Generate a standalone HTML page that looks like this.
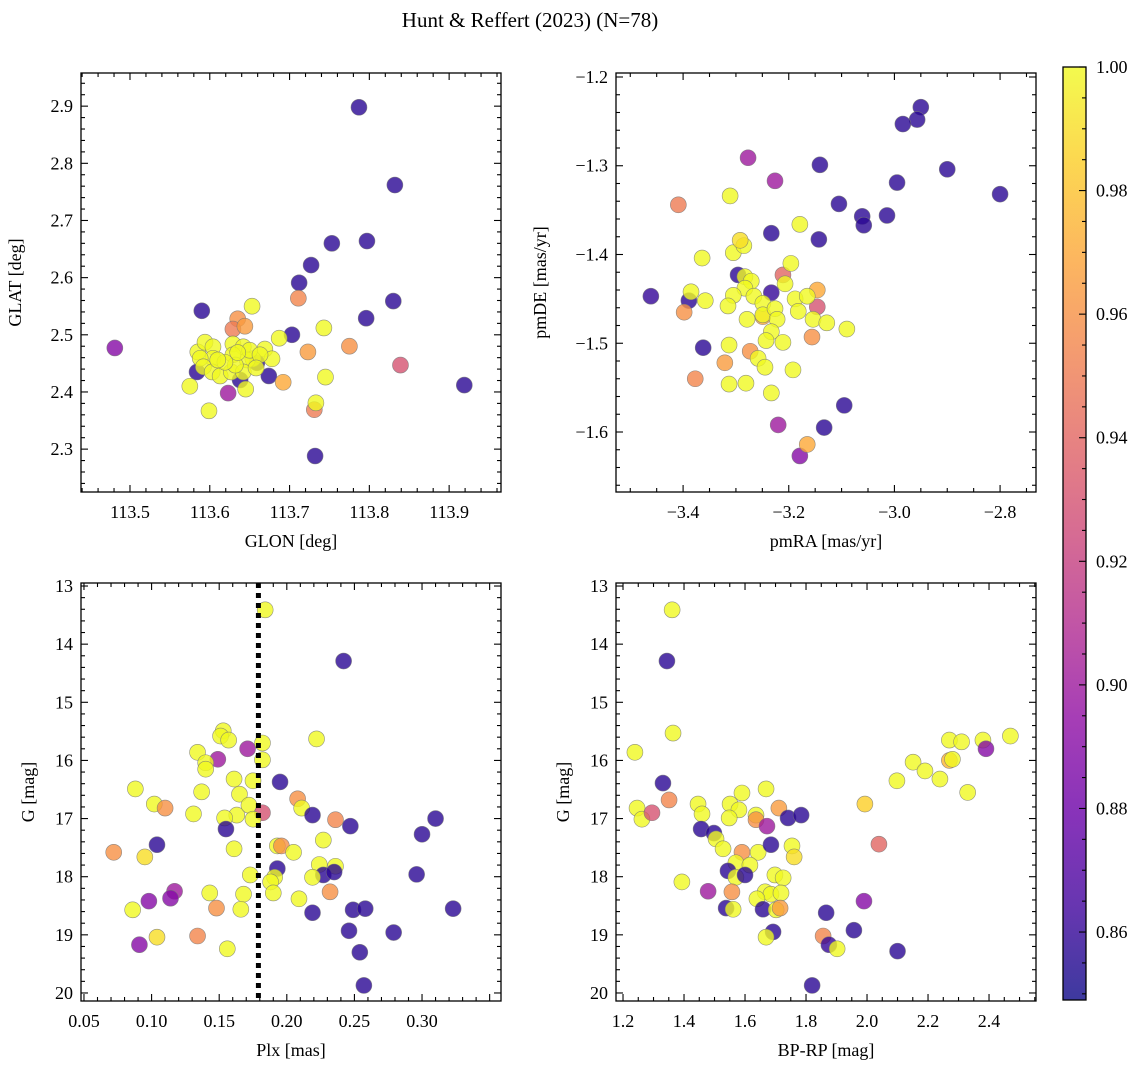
<!DOCTYPE html>
<html><head><meta charset="utf-8"><style>
html,body{margin:0;padding:0;background:#fff;}
svg{display:block;font-family:"Liberation Serif","DejaVu Serif",serif;}
</style></head><body>
<svg id="fig" width="1148" height="1067" viewBox="0 0 1148 1067" xmlns="http://www.w3.org/2000/svg">
<text x="530" y="27" font-size="21" text-anchor="middle">Hunt &amp; Reffert (2023) (N=78)</text>
</svg>
<script>
// ---- Panel 1: GLON / GLAT ----
const p1Glon=[113.787,113.832,113.797,113.753,113.727,113.712,113.796,113.830,113.590,113.703,113.584,113.674,113.638,113.659,113.732,113.919,113.481,113.623,113.839,113.711,113.635,113.629,113.644,113.723,113.775,113.692,113.731,113.653,113.687,113.743,113.585,113.594,113.604,113.604,113.629,113.642,113.669,113.678,113.654,113.647,113.629,113.588,113.592,113.603,113.613,113.627,113.642,113.645,113.575,113.599,113.733,113.745,113.632,113.650,113.663,113.635,113.619,113.658,113.610];
const p1Glat=[2.898,2.762,2.664,2.660,2.622,2.591,2.529,2.559,2.542,2.500,2.435,2.428,2.421,2.451,2.288,2.412,2.477,2.398,2.447,2.564,2.528,2.510,2.515,2.470,2.480,2.417,2.369,2.550,2.494,2.512,2.470,2.487,2.479,2.459,2.484,2.479,2.475,2.458,2.458,2.456,2.465,2.459,2.444,2.435,2.428,2.435,2.435,2.405,2.410,2.367,2.381,2.426,2.447,2.473,2.465,2.469,2.452,2.442,2.456];
const p1Prob=[0.857,0.857,0.857,0.857,0.857,0.857,0.857,0.857,0.857,0.857,0.857,0.857,0.857,0.857,0.857,0.857,0.89,0.90,0.93,0.955,0.96,0.95,0.965,0.965,0.96,0.97,0.95,1,1,1,1,1,1,1,1,1,1,1,1,1,1,1,1,1,1,1,1,1,1,1,1,1,1,1,1,1,1,1,1];
// ---- Panel 2: pmRA / pmDE ----
const p2Pmra=[-2.950,-2.957,-2.984,-2.900,-2.800,-2.995,-3.014,-3.061,-3.058,-3.141,-3.105,-3.233,-3.143,-3.296,-3.461,-3.389,-3.233,-3.362,-3.095,-3.133,-3.277,-3.226,-3.220,-3.179,-3.409,-3.211,-3.146,-3.398,-3.146,-3.249,-3.156,-3.273,-3.321,-3.377,-3.165,-3.364,-3.305,-3.285,-3.196,-3.283,-3.271,-3.207,-3.283,-3.385,-3.358,-3.305,-3.266,-3.188,-3.165,-3.315,-3.249,-3.249,-3.226,-3.182,-3.279,-3.222,-3.154,-3.128,-3.090,-3.233,-3.243,-3.211,-3.313,-3.258,-3.245,-3.192,-3.313,-3.281,-3.233,-3.311,-3.179,-3.292];
const p2Pmde=[-1.234,-1.248,-1.253,-1.304,-1.332,-1.319,-1.356,-1.357,-1.367,-1.299,-1.343,-1.376,-1.383,-1.423,-1.447,-1.452,-1.443,-1.505,-1.570,-1.595,-1.291,-1.317,-1.592,-1.627,-1.344,-1.423,-1.459,-1.465,-1.440,-1.470,-1.493,-1.509,-1.522,-1.540,-1.614,-1.404,-1.398,-1.390,-1.410,-1.425,-1.430,-1.433,-1.438,-1.442,-1.452,-1.446,-1.447,-1.450,-1.447,-1.458,-1.455,-1.468,-1.461,-1.464,-1.473,-1.473,-1.473,-1.477,-1.484,-1.487,-1.497,-1.499,-1.502,-1.517,-1.527,-1.530,-1.546,-1.545,-1.556,-1.334,-1.366,-1.384];
const p2Prob=[0.857,0.857,0.857,0.857,0.857,0.857,0.857,0.857,0.857,0.857,0.857,0.857,0.857,0.857,0.86,0.857,0.86,0.857,0.857,0.857,0.90,0.90,0.90,0.89,0.95,0.94,0.93,0.96,0.97,0.97,0.96,0.96,0.965,0.955,0.97,1,1,1,1,1,1,1,1,1,1,1,1,1,1,1,1,1,1,1,1,1,1,1,1,1,1,1,1,1,1,1,1,1,1,1,1,0.99];
// ---- Panel 3: Plx / G ----
const p3Plx=[0.184,0.242,0.153,0.151,0.157,0.171,0.182,0.222,0.134,0.149,0.140,0.140,0.182,0.161,0.175,0.195,0.088,0.137,0.165,0.208,0.211,0.219,0.236,0.102,0.110,0.131,0.163,0.172,0.182,0.154,0.175,0.155,0.104,0.072,0.095,0.161,0.193,0.196,0.205,0.227,0.193,0.224,0.236,0.227,0.235,0.219,0.173,0.191,0.188,0.190,0.117,0.114,0.098,0.143,0.168,0.232,0.086,0.148,0.166,0.209,0.219,0.091,0.104,0.134,0.156,0.310,0.300,0.296,0.323,0.279,0.246,0.249,0.258,0.254,0.257,0.247];
const p3G=[13.41,14.29,15.49,15.58,15.65,15.80,15.70,15.63,15.86,15.98,16.04,16.15,15.99,16.32,16.35,16.37,16.49,16.54,16.58,16.66,16.82,16.94,17.02,16.75,16.82,16.92,16.94,16.77,16.90,16.99,17.01,17.18,17.45,17.58,17.66,17.52,17.47,17.47,17.58,17.37,17.86,17.79,17.82,17.97,17.92,18.01,17.97,18.01,18.09,18.28,18.25,18.37,18.42,18.28,18.30,18.26,18.57,18.54,18.56,18.38,18.62,19.17,19.04,19.02,19.24,17.00,17.27,17.96,18.55,18.96,18.93,18.57,18.55,19.30,19.87,17.13];
const p3Prob=[1,0.857,1,1,1,0.90,1,1,1,0.90,1,1,1,1,1,0.857,1,1,1,0.96,1,0.857,0.955,1,0.96,1,1,1,0.93,1,1,0.857,0.857,0.96,0.99,1,1,0.96,1,1,0.857,1,1,0.857,0.857,1,1,1,1,1,0.90,0.89,0.89,1,1,0.96,1,0.96,1,1,0.857,0.89,0.99,0.955,1,0.857,0.857,0.857,0.857,0.857,0.857,0.857,0.857,0.857,0.857,0.857];
const plxLine=[0.179];
// ---- Panel 4: BP-RP / G ----
const p4Bprp=[1.364,1.361,1.344,1.239,1.331,1.351,1.246,1.262,1.295,1.446,1.459,1.551,1.590,1.580,1.548,1.669,1.711,1.636,1.636,1.672,1.741,1.784,1.456,1.498,1.505,1.528,1.590,1.643,1.685,1.754,1.761,1.570,1.616,1.544,1.570,1.600,1.698,1.725,1.393,1.479,1.557,1.666,1.685,1.718,1.639,1.538,1.561,1.659,1.702,1.715,1.866,1.990,1.692,1.669,1.856,1.957,1.875,1.902,1.993,2.039,2.100,2.098,2.151,2.190,2.239,2.27,2.28,2.27,2.31,2.38,2.47,2.39,2.33,1.82];
const p4G=[15.53,13.41,14.29,15.86,16.39,16.68,16.82,17.01,16.90,16.75,16.92,16.75,16.56,16.85,16.99,16.49,16.82,16.94,17.02,17.13,16.99,16.94,17.18,17.25,17.35,17.52,17.58,17.58,17.45,17.47,17.66,17.76,17.80,17.90,18.01,17.97,17.97,18.02,18.09,18.25,18.26,18.26,18.30,18.28,18.38,18.54,18.56,18.56,18.57,18.54,18.62,18.42,18.95,19.04,19.02,18.92,19.17,19.24,16.75,17.44,19.28,16.35,16.03,16.18,16.32,16.00,15.98,15.65,15.68,15.65,15.58,15.80,16.55,19.87];
const p4Prob=[1,1,0.857,1,0.857,0.955,1,1,0.93,1,1,1,1,1,1,1,0.965,1,0.96,0.90,0.857,0.857,0.857,0.857,1,1,0.96,1,0.857,1,0.99,1,1,0.857,1,0.857,1,1,1,0.90,0.96,1,1,1,1,0.857,1,0.857,1,0.965,0.857,0.89,0.857,1,0.955,0.857,0.86,1,0.985,0.94,0.857,1,1,1,1,0.975,1,1,1,1,1,0.89,1,0.857];
// ---- Colorbar ----
const cbTicks=[0.86,0.88,0.90,0.92,0.94,0.96,0.98,1.00];

const NS="http://www.w3.org/2000/svg";
const svg=document.getElementById('fig');
const VMIN=0.849,VMAX=1.0;
const plasma=["#0d0887","#41049d","#6a00a8","#8f0da4","#b12a90","#cc4778","#e16462","#f2844b","#fca636","#fcce25","#f0f921"];
function hx(c){return [parseInt(c.substr(1,2),16),parseInt(c.substr(3,2),16),parseInt(c.substr(5,2),16)];}
function cmap(v){let t=(v-VMIN)/(VMAX-VMIN);t=Math.max(0,Math.min(1,t));const f=t*10,i=Math.min(9,Math.floor(f)),r=f-i;const a=hx(plasma[i]),b=hx(plasma[i+1]);return 'rgb('+a.map((x,k)=>Math.round(x+(b[k]-x)*r)).join(',')+')';}
function mk(tag,attrs,parent){const e=document.createElementNS(NS,tag);for(const k in attrs)e.setAttribute(k,attrs[k]);(parent||svg).appendChild(e);return e;}

function panel(o){
  const g=mk('g',{});
  
  
  const X=v=>o.x0+(v-o.xmin)/(o.xmax-o.xmin)*(o.x1-o.x0);
  const Y=o.yinv?(v=>o.y0+(v-o.ymin)/(o.ymax-o.ymin)*(o.y1-o.y0)):(v=>o.y1-(v-o.ymin)/(o.ymax-o.ymin)*(o.y1-o.y0));
  const pg=mk('g',{},g);
  
  
  for(let i=0;i<o.xs.length;i++){
    const c=mk('circle',{cx:X(o.xs[i]),cy:Y(o.ys[i]),r:8,fill:cmap(o.cs[i]),'fill-opacity':0.8,stroke:'#777','stroke-width':0.6,'stroke-opacity':0.8},pg);
    
    
  }
  if(o.vline!==undefined){
    const l=mk('line',{x1:X(o.vline),x2:X(o.vline),y1:o.y0,y2:o.y1,stroke:'#000','stroke-width':5,'stroke-dasharray':'5,5'},g);
    
    
  }
  const fr=mk('rect',{x:o.x0,y:o.y0,width:o.x1-o.x0,height:o.y1-o.y0,fill:'none',stroke:'#000','stroke-width':1.3},g);
  
  
  const tg=mk('g',{stroke:'#000','stroke-width':1.1},g);
  
  
  const eps=1e-9;
  const nmx=Math.ceil((o.xmin-eps)/o.xminor),nMx=Math.floor((o.xmax+eps)/o.xminor);
  for(let k=nmx;k<=nMx;k++){const v=k*o.xminor;const major=Math.abs(v/o.xmajor-Math.round(v/o.xmajor))<1e-6;const L=major?7:4;const px=X(v);
    mk('line',{x1:px,x2:px,y1:o.y1,y2:o.y1-L},tg);mk('line',{x1:px,x2:px,y1:o.y0,y2:o.y0+L},tg);}
  const nmy=Math.ceil((o.ymin-eps)/o.yminor),nMy=Math.floor((o.ymax+eps)/o.yminor);
  for(let k=nmy;k<=nMy;k++){const v=k*o.yminor;const major=Math.abs(v/o.ymajor-Math.round(v/o.ymajor))<1e-6;const L=major?7:4;const py=Y(v);
    mk('line',{x1:o.x0,x2:o.x0+L,y1:py,y2:py},tg);mk('line',{x1:o.x1,x2:o.x1-L,y1:py,y2:py},tg);}
  const lg=mk('g',{'font-size':18,fill:'#000'},g);
  
  
  o.xlabels.forEach(s=>{const t=mk('text',{x:X(parseFloat(s.replace('\u2212','-'))),y:o.y1+26,'text-anchor':'middle'},lg);t.textContent=s;});
  o.ylabels.forEach(s=>{const t=mk('text',{x:o.x0-8,y:Y(parseFloat(s.replace('\u2212','-')))+6,'text-anchor':'end'},lg);t.textContent=s;});
  const xt=mk('text',{x:(o.x0+o.x1)/2,y:o.y1+55,'text-anchor':'middle','font-size':18},g);xt.textContent=o.xtitle;
  
  
  const cy=(o.y0+o.y1)/2;
  const yt=mk('text',{x:o.x0-o.ytoff,y:cy,'text-anchor':'middle','font-size':18,transform:'rotate(-90 '+(o.x0-o.ytoff)+' '+cy+')'},g);yt.textContent=o.ytitle;
  
  
}
const M='\u2212';
panel({name:'glon-glat-panel',x0:81,x1:501,y0:73,y1:492,xmin:113.4386,xmax:113.965,ymin:2.225,ymax:2.958,xmajor:0.1,xminor:0.02,ymajor:0.1,yminor:0.02,
  xs:p1Glon,ys:p1Glat,cs:p1Prob,xlabels:['113.5','113.6','113.7','113.8','113.9'],ylabels:['2.3','2.4','2.5','2.6','2.7','2.8','2.9'],xtitle:'GLON [deg]',ytitle:'GLAT [deg]',ytoff:60});
panel({name:'pmra-pmde-panel',x0:616,x1:1036,y0:73,y1:492,xmin:-3.527,xmax:-2.732,ymin:-1.6676,ymax:-1.1955,xmajor:0.2,xminor:0.05,ymajor:0.1,yminor:0.02,
  xs:p2Pmra,ys:p2Pmde,cs:p2Prob,xlabels:[M+'3.4',M+'3.2',M+'3.0',M+'2.8'],ylabels:[M+'1.6',M+'1.5',M+'1.4',M+'1.3',M+'1.2'],xtitle:'pmRA [mas/yr]',ytitle:'pmDE [mas/yr]',ytoff:70});
panel({name:'plx-g-panel',x0:81,x1:501,y0:583,y1:1001,xmin:0.0478,xmax:0.3584,ymin:12.948,ymax:20.138,yinv:true,xmajor:0.05,xminor:0.01,ymajor:1,yminor:0.2,
  xs:p3Plx,ys:p3G,cs:p3Prob,vline:plxLine[0],xlabels:['0.05','0.10','0.15','0.20','0.25','0.30'],ylabels:['13','14','15','16','17','18','19','20'],xtitle:'Plx [mas]',ytitle:'G [mag]',ytoff:47});
panel({name:'color-magnitude-panel',x0:616,x1:1036,y0:583,y1:1001,xmin:1.177,xmax:2.554,ymin:12.948,ymax:20.138,yinv:true,xmajor:0.2,xminor:0.05,ymajor:1,yminor:0.2,
  xs:p4Bprp,ys:p4G,cs:p4Prob,xlabels:['1.2','1.4','1.6','1.8','2.0','2.2','2.4'],ylabels:['13','14','15','16','17','18','19','20'],xtitle:'BP-RP [mag]',ytitle:'G [mag]',ytoff:47});

(function(){
  const x0=1063,x1=1086,y0=67,y1=1000;
  const cg=mk('g',{});
  
  
  const defs=mk('defs',{},cg);
  const lgd=mk('linearGradient',{id:'cbg',x1:0,y1:1,x2:0,y2:0},defs);
  plasma.forEach((c,i)=>mk('stop',{offset:(i*10)+'%','stop-color':c,'stop-opacity':0.8},lgd));
  mk('rect',{x:x0,y:y0,width:x1-x0,height:y1-y0,fill:'url(#cbg)',stroke:'#000','stroke-width':1.3},cg);
  const Y=v=>y1-(v-VMIN)/(VMAX-VMIN)*(y1-y0);
  for(let k=170;k<=200;k++){const v=k*0.005;if(v<VMIN-1e-9)continue;const major=k%4===0;const py=Y(v);
    mk('line',{x1:x1,x2:x1-(major?7:4),y1:py,y2:py,stroke:'#000','stroke-width':1.1},cg);}
  cbTicks.forEach(v=>{const t=mk('text',{x:x1+10,y:Y(v)+6,'font-size':18},cg);t.textContent=v.toFixed(2);});
})();
</script>
</body></html>
